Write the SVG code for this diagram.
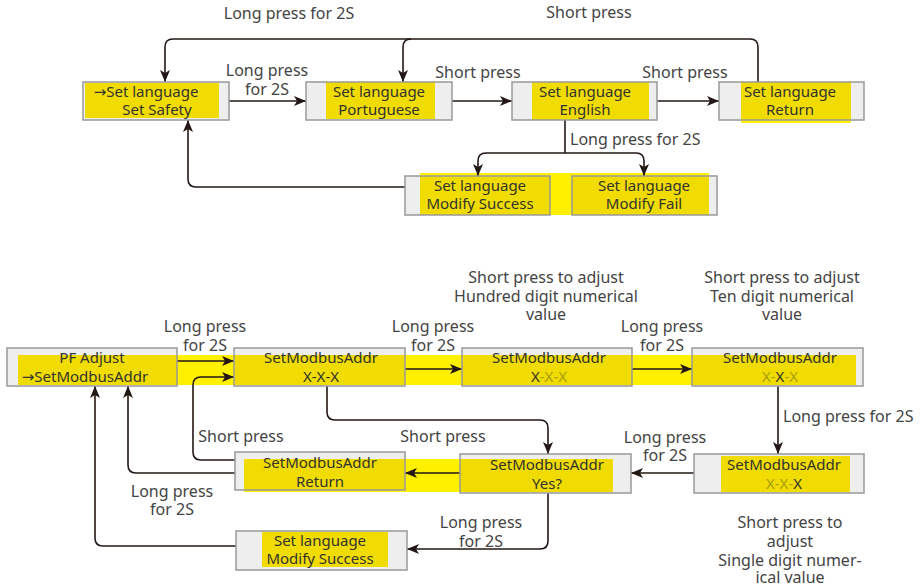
<svg xmlns="http://www.w3.org/2000/svg" width="920" height="587" viewBox="0 0 920 587">
<defs>
<style>
.box{fill:#eeeeee;stroke:none}
.bs{fill:none;stroke:#999999;stroke-width:1.5}
.yi{fill:#f0dc00}
.yb{fill:#fff000}
.t{font-family:"Noto Sans","DejaVu Sans",sans-serif;font-size:15px;fill:#333333;text-anchor:middle}
.l{font-family:"Noto Sans","DejaVu Sans",sans-serif;font-size:16px;fill:#444444;text-anchor:middle}
.ls{text-anchor:start}
.lx{fill:#aa9c10}
.c{fill:none;stroke:#231815;stroke-width:1.6}
.a{marker-end:url(#ah)}
</style>
<marker id="ah" viewBox="0 0 12 10" refX="12" refY="5" markerWidth="12" markerHeight="10" markerUnits="userSpaceOnUse" orient="auto">
<path d="M0,0 L12,5 L0,10 L3,5 Z" fill="#231815"/>
</marker>
</defs>
<rect width="920" height="587" fill="#ffffff"/>

<g id="highlights">
<rect class="yb" x="420" y="173" width="289" height="42"/>
<rect class="yb" x="741" y="82" width="110" height="41"/>
<rect class="yb" x="18" y="355" width="838" height="30"/>
<rect class="yb" x="244" y="459" width="369" height="33"/>
</g>

<g id="connectors">
<path class="c a" d="M229,101 H306"/>
<path class="c a" d="M452,101 H512"/>
<path class="c a" d="M657,101 H719"/>
<path class="c a" d="M758,82 V47 Q758,39 750,39 H173 Q165,39 165,47 V82"/>
<path class="c a" d="M411,39 Q403,39 403,47 V82"/>
<path class="c" d="M565,120 V153"/>
<path class="c a" d="M565,153 H486 Q478,153 478,161 V176"/>
<path class="c a" d="M565,153 H636 Q644,153 644,161 V176"/>
<path class="c a" d="M405,187 H196 Q188,187 188,179 V120"/>

<path class="c a" d="M177,361 H234"/>
<path class="c a" d="M235,460 H201 Q193,460 193,452 V385 Q193,377 201,377 H234"/>
<path class="c a" d="M235,473 H136 Q128,473 128,465 V386"/>
<path class="c a" d="M236,546 H103 Q95,546 95,538 V386"/>
<path class="c a" d="M405,369 H462"/>
<path class="c a" d="M632,369 H692"/>
<path class="c a" d="M778,386 V454"/>
<path class="c a" d="M694,473 H631"/>
<path class="c a" d="M327,386 V412 Q327,420 335,420 H540 Q548,420 548,428 V454"/>
<path class="c a" d="M460,473 H405"/>
<path class="c a" d="M548,493 V541 Q548,549 540,549 H407"/>
</g>

<g id="labels">
<text class="l" x="289" y="19">Long press for 2S</text>
<text class="l" x="589" y="18">Short press</text>
<text class="l" x="267" y="76">Long press</text>
<text class="l" x="267" y="95">for 2S</text>
<text class="l" x="478" y="78">Short press</text>
<text class="l" x="685" y="78">Short press</text>
<text class="l ls" x="570" y="145">Long press for 2S</text>

<text class="l" x="205" y="332">Long press</text>
<text class="l" x="205" y="351">for 2S</text>
<text class="l" x="433" y="332">Long press</text>
<text class="l" x="433" y="351">for 2S</text>
<text class="l" x="662" y="332">Long press</text>
<text class="l" x="662" y="351">for 2S</text>
<text class="l" x="546" y="283">Short press to adjust</text>
<text class="l" x="546" y="302">Hundred digit numerical</text>
<text class="l" x="546" y="320">value</text>
<text class="l" x="782" y="283">Short press to adjust</text>
<text class="l" x="782" y="302">Ten digit numerical</text>
<text class="l" x="782" y="320">value</text>
<text class="l ls" x="783" y="422">Long press for 2S</text>
<text class="l" x="665" y="443">Long press</text>
<text class="l" x="665" y="461">for 2S</text>
<text class="l" x="241" y="442">Short press</text>
<text class="l" x="443" y="442">Short press</text>
<text class="l" x="172" y="497">Long press</text>
<text class="l" x="172" y="515">for 2S</text>
<text class="l" x="481" y="528">Long press</text>
<text class="l" x="481" y="547">for 2S</text>
<text class="l" x="790" y="528">Short press to</text>
<text class="l" x="790" y="547">adjust</text>
<text class="l" x="790" y="566">Single digit numer-</text>
<text class="l" x="790" y="583">ical value</text>
</g>

<g id="node-set-safety">
<rect class="box" x="83" y="82" width="146" height="38"/>
<rect class="yi" x="85" y="83" width="134" height="35"/>
<rect class="bs" x="83" y="82" width="146" height="38"/>
<text class="t" x="146" y="97">→Set language</text>
<text class="t" x="157" y="115">Set Safety</text>
</g>
<g id="node-portuguese">
<rect class="box" x="306" y="82" width="146" height="38"/>
<rect class="yi" x="326" y="82" width="109" height="37"/>
<rect class="bs" x="306" y="82" width="146" height="38"/>
<text class="t" x="379" y="97">Set language</text>
<text class="t" x="379" y="115">Portuguese</text>
</g>
<g id="node-english">
<rect class="box" x="512" y="82" width="145" height="38"/>
<rect class="yi" x="532" y="82" width="117" height="38"/>
<rect class="bs" x="512" y="82" width="145" height="38"/>
<text class="t" x="585" y="97">Set language</text>
<text class="t" x="585" y="115">English</text>
</g>
<g id="node-return-top">
<rect class="box" x="719" y="82" width="145" height="38"/>
<rect class="yi" x="741" y="82" width="110" height="38"/>
<rect class="bs" x="719" y="82" width="145" height="38"/>
<text class="t" x="790" y="97">Set language</text>
<text class="t" x="790" y="115">Return</text>
</g>
<g id="node-modify-success-top">
<rect class="box" x="405" y="176" width="145" height="39"/>
<rect class="yi" x="420" y="176" width="130" height="39"/>
<rect class="bs" x="405" y="176" width="145" height="39"/>
<text class="t" x="480" y="191">Set language</text>
<text class="t" x="480" y="209">Modify Success</text>
</g>
<g id="node-modify-fail">
<rect class="box" x="572" y="176" width="145" height="39"/>
<rect class="yi" x="572" y="176" width="137" height="39"/>
<rect class="bs" x="572" y="176" width="145" height="39"/>
<text class="t" x="644" y="191">Set language</text>
<text class="t" x="644" y="209">Modify Fail</text>
</g>

<g id="node-pf-adjust">
<rect class="box" x="7" y="348" width="170" height="38"/>
<rect class="yi" x="18" y="355" width="159" height="30"/>
<rect class="bs" x="7" y="348" width="170" height="38"/>
<text class="t" x="92" y="363">PF Adjust</text>
<text class="t" x="85" y="382">→SetModbusAddr</text>
</g>
<g id="node-addr-xxx">
<rect class="box" x="234" y="348" width="171" height="38"/>
<rect class="yi" x="234" y="355" width="171" height="30"/>
<rect class="bs" x="234" y="348" width="171" height="38"/>
<text class="t" x="321" y="363">SetModbusAddr</text>
<text class="t" x="321" y="382">X-X-X</text>
</g>
<g id="node-addr-hundred">
<rect class="box" x="462" y="348" width="170" height="38"/>
<rect class="yi" x="462" y="355" width="170" height="30"/>
<rect class="bs" x="462" y="348" width="170" height="38"/>
<text class="t" x="549" y="363">SetModbusAddr</text>
<text class="t" x="549" y="382">X<tspan class="lx">-X-X</tspan></text>
</g>
<g id="node-addr-ten">
<rect class="box" x="692" y="348" width="171" height="38"/>
<rect class="yi" x="692" y="355" width="164" height="30"/>
<rect class="bs" x="692" y="348" width="171" height="38"/>
<text class="t" x="780" y="363">SetModbusAddr</text>
<text class="t" x="780" y="382"><tspan class="lx">X-</tspan>X<tspan class="lx">-X</tspan></text>
</g>
<g id="node-addr-single">
<rect class="box" x="694" y="454" width="170" height="39"/>
<rect class="yi" x="721" y="456" width="129" height="36"/>
<rect class="bs" x="694" y="454" width="170" height="39"/>
<text class="t" x="784" y="470">SetModbusAddr</text>
<text class="t" x="784" y="489"><tspan class="lx">X-X-</tspan>X</text>
</g>
<g id="node-addr-yes">
<rect class="box" x="460" y="454" width="171" height="39"/>
<rect class="yi" x="460" y="459" width="153" height="33"/>
<rect class="bs" x="460" y="454" width="171" height="39"/>
<text class="t" x="547" y="470">SetModbusAddr</text>
<text class="t" x="547" y="489">Yes?</text>
</g>
<g id="node-addr-return">
<rect class="box" x="235" y="452" width="170" height="38"/>
<rect class="yi" x="244" y="459" width="161" height="31"/>
<rect class="bs" x="235" y="452" width="170" height="38"/>
<text class="t" x="320" y="468">SetModbusAddr</text>
<text class="t" x="320" y="487">Return</text>
</g>
<g id="node-modify-success-bottom">
<rect class="box" x="236" y="531" width="171" height="39"/>
<rect class="yi" x="262" y="532" width="126" height="35"/>
<rect class="bs" x="236" y="531" width="171" height="39"/>
<text class="t" x="320" y="546">Set language</text>
<text class="t" x="320" y="564">Modify Success</text>
</g>
</svg>
